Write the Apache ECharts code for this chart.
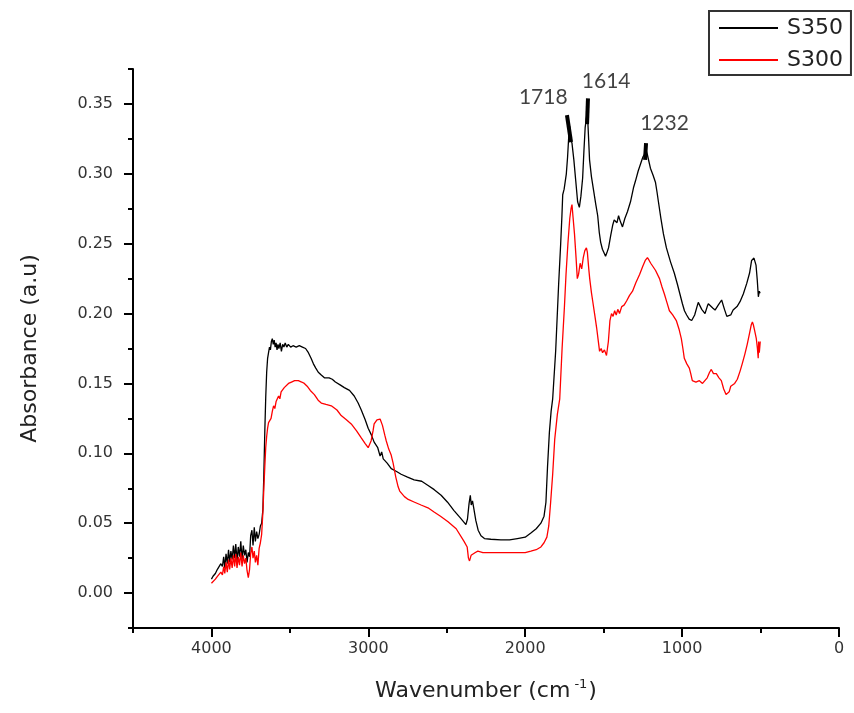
<!DOCTYPE html>
<html><head><meta charset="utf-8">
<script src="https://cdn.jsdelivr.net/npm/echarts@6/dist/echarts.min.js"></script>
<style>html,body{margin:0;padding:0;background:#fff}#chart{width:854px;height:713px}</style>
</head><body><div id="chart"></div>
<script>
// ---- data (wavenumber cm-1, absorbance a.u.) ----
const seriesNames = ['S350', 'S300'];
const s350 = [[4000,0.010],[3990,0.012],[3975,0.014],[3962,0.017],[3950,0.016],[3940,0.021],[3930,0.019],[3922,0.026],[3915,0.018],[3907,0.028],[3899,0.021],[3891,0.031],[3884,0.022],[3876,0.030],[3868,0.024],[3860,0.034],[3852,0.025],[3845,0.035],[3837,0.023],[3829,0.033],[3821,0.026],[3813,0.037],[3805,0.024],[3797,0.034],[3789,0.027],[3781,0.031],[3773,0.022],[3765,0.029],[3757,0.026],[3750,0.041],[3742,0.045],[3735,0.034],[3727,0.047],[3720,0.037],[3712,0.044],[3704,0.039],[3696,0.042],[3688,0.048],[3680,0.050],[3672,0.060],[3666,0.085],[3660,0.115],[3654,0.140],[3648,0.158],[3642,0.168],[3636,0.172],[3630,0.176],[3624,0.174],[3618,0.180],[3612,0.182],[3606,0.178],[3600,0.181],[3594,0.176],[3588,0.179],[3582,0.174],[3576,0.178],[3570,0.175],[3562,0.179],[3554,0.173],[3546,0.178],[3538,0.176],[3530,0.179],[3520,0.176],[3510,0.178],[3495,0.176],[3480,0.177],[3460,0.176],[3440,0.177],[3420,0.176],[3400,0.175],[3382,0.172],[3365,0.168],[3350,0.164],[3335,0.161],[3319,0.158],[3300,0.156],[3280,0.154],[3250,0.154],[3230,0.153],[3210,0.151],[3180,0.149],[3153,0.147],[3120,0.145],[3090,0.141],[3065,0.136],[3045,0.131],[3020,0.124],[3001,0.118],[2980,0.113],[2963,0.108],[2940,0.104],[2925,0.098],[2915,0.101],[2905,0.096],[2880,0.093],[2854,0.089],[2820,0.087],[2791,0.085],[2750,0.083],[2708,0.081],[2660,0.080],[2619,0.077],[2580,0.074],[2536,0.070],[2495,0.065],[2454,0.059],[2415,0.054],[2378,0.049],[2368,0.053],[2358,0.064],[2350,0.070],[2344,0.063],[2336,0.066],[2327,0.060],[2315,0.052],[2300,0.045],[2282,0.041],[2260,0.039],[2219,0.0385],[2155,0.038],[2100,0.038],[2050,0.039],[2000,0.040],[1964,0.043],[1930,0.046],[1900,0.050],[1880,0.055],[1868,0.065],[1858,0.090],[1846,0.115],[1835,0.130],[1825,0.139],[1806,0.173],[1787,0.221],[1774,0.250],[1766,0.270],[1761,0.285],[1752,0.289],[1746,0.288],[1738,0.300],[1730,0.312],[1722,0.328],[1716,0.334],[1710,0.325],[1702,0.322],[1690,0.310],[1678,0.295],[1666,0.280],[1655,0.276],[1645,0.284],[1634,0.297],[1626,0.316],[1618,0.333],[1610,0.340],[1604,0.345],[1598,0.330],[1590,0.310],[1578,0.298],[1564,0.288],[1550,0.278],[1538,0.270],[1528,0.258],[1519,0.251],[1508,0.246],[1500,0.244],[1488,0.241],[1478,0.244],[1469,0.247],[1455,0.256],[1443,0.263],[1433,0.267],[1424,0.268],[1415,0.265],[1405,0.270],[1394,0.266],[1380,0.262],[1365,0.268],[1348,0.273],[1329,0.280],[1310,0.290],[1297,0.295],[1280,0.302],[1265,0.307],[1250,0.312],[1240,0.314],[1232,0.318],[1222,0.314],[1212,0.309],[1202,0.304],[1185,0.299],[1170,0.294],[1160,0.287],[1151,0.280],[1135,0.268],[1119,0.257],[1100,0.247],[1074,0.237],[1050,0.229],[1030,0.221],[1014,0.214],[998,0.207],[985,0.202],[971,0.199],[955,0.196],[939,0.195],[920,0.199],[905,0.205],[897,0.208],[886,0.207],[875,0.203],[854,0.200],[840,0.205],[833,0.207],[822,0.2075],[805,0.204],[790,0.2025],[770,0.206],[748,0.2097],[730,0.203],[715,0.198],[705,0.1966],[690,0.199],[675,0.2025],[650,0.205],[631,0.2085],[610,0.214],[588,0.2216],[570,0.229],[557,0.238],[542,0.2397],[529,0.2347],[521,0.224],[514,0.212],[508,0.216],[503,0.2145]];
const s300 = [[4000,0.007],[3990,0.008],[3975,0.010],[3962,0.012],[3950,0.011],[3940,0.015],[3930,0.013],[3922,0.019],[3915,0.014],[3907,0.022],[3899,0.015],[3891,0.024],[3884,0.017],[3876,0.025],[3868,0.018],[3860,0.027],[3852,0.019],[3845,0.028],[3837,0.018],[3829,0.026],[3821,0.020],[3813,0.029],[3805,0.019],[3797,0.027],[3789,0.021],[3781,0.025],[3773,0.016],[3765,0.011],[3757,0.017],[3750,0.028],[3742,0.033],[3735,0.025],[3727,0.030],[3720,0.022],[3712,0.027],[3704,0.020],[3696,0.032],[3688,0.036],[3680,0.042],[3672,0.058],[3666,0.075],[3660,0.090],[3654,0.104],[3648,0.112],[3642,0.118],[3636,0.122],[3628,0.121],[3620,0.125],[3612,0.130],[3604,0.134],[3596,0.132],[3588,0.137],[3580,0.136],[3572,0.141],[3564,0.139],[3556,0.144],[3546,0.143],[3536,0.147],[3525,0.148],[3509,0.150],[3490,0.151],[3470,0.152],[3446,0.152],[3425,0.151],[3408,0.150],[3390,0.148],[3370,0.145],[3344,0.142],[3320,0.138],[3300,0.136],[3270,0.135],[3236,0.134],[3200,0.131],[3173,0.127],[3140,0.124],[3109,0.121],[3075,0.116],[3045,0.111],[3020,0.107],[3001,0.104],[2990,0.105],[2982,0.109],[2970,0.116],[2963,0.121],[2945,0.124],[2925,0.1245],[2910,0.120],[2895,0.113],[2886,0.109],[2870,0.103],[2855,0.099],[2842,0.093],[2825,0.083],[2810,0.076],[2800,0.073],[2770,0.069],[2746,0.067],[2705,0.065],[2664,0.063],[2620,0.061],[2581,0.058],[2540,0.055],[2492,0.051],[2440,0.046],[2390,0.037],[2370,0.033],[2362,0.025],[2355,0.023],[2345,0.027],[2333,0.026],[2318,0.029],[2302,0.030],[2270,0.029],[2238,0.029],[2155,0.029],[2080,0.029],[2000,0.029],[1964,0.030],[1930,0.031],[1900,0.033],[1880,0.036],[1862,0.040],[1850,0.048],[1838,0.065],[1825,0.085],[1812,0.110],[1795,0.128],[1780,0.139],[1765,0.175],[1750,0.205],[1740,0.228],[1728,0.250],[1716,0.268],[1708,0.275],[1702,0.278],[1696,0.270],[1686,0.257],[1676,0.240],[1668,0.225],[1660,0.228],[1650,0.236],[1640,0.232],[1630,0.240],[1620,0.245],[1610,0.247],[1604,0.244],[1595,0.232],[1589,0.225],[1578,0.215],[1570,0.209],[1558,0.200],[1545,0.190],[1535,0.181],[1526,0.173],[1516,0.175],[1507,0.172],[1495,0.174],[1482,0.170],[1470,0.180],[1460,0.195],[1450,0.200],[1440,0.198],[1430,0.202],[1420,0.199],[1410,0.203],[1399,0.200],[1385,0.205],[1370,0.206],[1354,0.209],[1335,0.213],[1316,0.216],[1295,0.222],[1271,0.228],[1250,0.234],[1235,0.238],[1221,0.240],[1210,0.238],[1200,0.236],[1189,0.235],[1170,0.231],[1144,0.225],[1128,0.219],[1113,0.214],[1097,0.208],[1081,0.202],[1060,0.199],[1037,0.195],[1020,0.189],[1005,0.182],[995,0.175],[986,0.168],[970,0.164],[954,0.161],[945,0.157],[935,0.152],[912,0.151],[890,0.152],[870,0.150],[858,0.149],[840,0.154],[825,0.158],[814,0.160],[800,0.157],[782,0.157],[765,0.154],[750,0.152],[735,0.146],[720,0.142],[712,0.141],[700,0.144],[690,0.148],[680,0.147],[665,0.150],[648,0.153],[630,0.159],[617,0.164],[600,0.171],[585,0.178],[570,0.186],[559,0.192],[552,0.194],[546,0.192],[538,0.188],[527,0.182],[520,0.175],[515,0.168],[512,0.180],[508,0.172],[505,0.176],[502,0.180]];

// peak annotations
const peakLabels = ['1718', '1614', '1232'];
const peakLabelWavenumber = [1885, 1484, 1112];
const peakLabelAbsorbance = [0.355, 0.366, 0.336];
const peakMarkFrom = [[1734, 0.342], [1600, 0.354], [1230, 0.322]];
const peakMarkTo = [[1708, 0.3227], [1606, 0.3356], [1236, 0.310]];

// axis ticks
const xTickLabels = [4000, 3000, 2000, 1000, 0];
const xMinorTicks = [4500, 3500, 2500, 1500, 500];
const yTickLabels = [0, 0.05, 0.10, 0.15, 0.20, 0.25, 0.30, 0.35];
const yMinorTicks = [-0.025, 0.025, 0.075, 0.125, 0.175, 0.225, 0.275, 0.325, 0.375];

const FONT = 'DejaVu Sans';
const axisLineStyle = { color: '#000', width: 2 };

const chart = echarts.init(document.getElementById('chart'), null, { renderer: 'canvas' });
chart.setOption({
  animation: false,
  backgroundColor: '#fff',
  grid: { left: 133, right: 15, top: 69, bottom: 85 },
  legend: {
    data: seriesNames,
    orient: 'vertical',
    left: 709, top: 11,
    padding: [5, 8, 3, 10],
    itemGap: 8,
    icon: 'rect',
    itemWidth: 59, itemHeight: 2,
    borderColor: '#333', borderWidth: 2,
    textStyle: { fontFamily: FONT, fontSize: 22, color: '#222', lineHeight: 24, padding: [0, 0, 0, 4] }
  },
  xAxis: [{
    type: 'value', min: 0, max: 4500, interval: 500, inverse: true, position: 'bottom',
    axisLine: { show: true, onZero: false, lineStyle: axisLineStyle },
    axisTick: { show: true, customValues: xTickLabels, length: 9, lineStyle: axisLineStyle },
    axisLabel: { customValues: xTickLabels, margin: 13, fontFamily: FONT, fontSize: 16, color: '#333',
      formatter: v => String(v) },
    splitLine: { show: false },
    name: 'Wavenumber (cm{sup|-1})', nameLocation: 'middle', nameGap: 50,
    nameTextStyle: { fontFamily: FONT, fontSize: 22, color: '#222', lineHeight: 26,
      rich: { sup: { fontFamily: FONT, fontSize: 13, verticalAlign: 'top', lineHeight: 14, padding: [0, 1, 0, 4], color: '#222' } } }
  }, {
    type: 'value', min: 0, max: 4500, interval: 500, inverse: true, position: 'bottom',
    axisLine: { show: false, onZero: false },
    axisTick: { show: true, customValues: xMinorTicks, length: 5, lineStyle: axisLineStyle },
    axisLabel: { show: false },
    splitLine: { show: false }
  }],
  yAxis: [{
    type: 'value', min: -0.025, max: 0.375, interval: 0.025, position: 'left',
    axisLine: { show: true, onZero: false, lineStyle: axisLineStyle },
    axisTick: { show: true, customValues: yTickLabels, length: 9, lineStyle: axisLineStyle },
    axisLabel: { customValues: yTickLabels, margin: 20, fontFamily: FONT, fontSize: 16, color: '#333',
      formatter: v => Number(v).toFixed(2) },
    splitLine: { show: false },
    name: 'Absorbance (a.u)', nameLocation: 'middle', nameGap: 92,
    nameTextStyle: { fontFamily: FONT, fontSize: 22, color: '#222' }
  }, {
    type: 'value', min: -0.025, max: 0.375, interval: 0.025, position: 'left',
    axisLine: { show: false, onZero: false },
    axisTick: { show: true, customValues: yMinorTicks, length: 5, lineStyle: axisLineStyle },
    axisLabel: { show: false },
    splitLine: { show: false }
  }],
  series: [{
    name: seriesNames[0], type: 'line', data: s350, showSymbol: false, symbol: 'none',
    lineStyle: { color: '#000', width: 1.3 }, itemStyle: { color: '#000' }, silent: true,
    markLine: {
      silent: true, symbol: ['none', 'none'], label: { show: false },
      lineStyle: { color: '#000', width: 4, type: 'solid' },
      data: peakMarkFrom.map((p, i) => [{ coord: p }, { coord: peakMarkTo[i] }])
    }
  }, {
    name: seriesNames[1], type: 'line', data: s300, showSymbol: false, symbol: 'none',
    lineStyle: { color: '#ff0000', width: 1.3 }, itemStyle: { color: '#ff0000' }, silent: true
  }, {
    name: 'peaks', type: 'scatter', silent: true, symbolSize: 1,
    itemStyle: { color: 'rgba(0,0,0,0)' },
    data: peakLabels.map((t, i) => ({ name: t, value: [peakLabelWavenumber[i], peakLabelAbsorbance[i]] })),
    label: { show: true, position: 'inside', formatter: '{b}', fontFamily: 'Lato', fontSize: 21, color: '#111' }
  }]
});
</script></body></html>
